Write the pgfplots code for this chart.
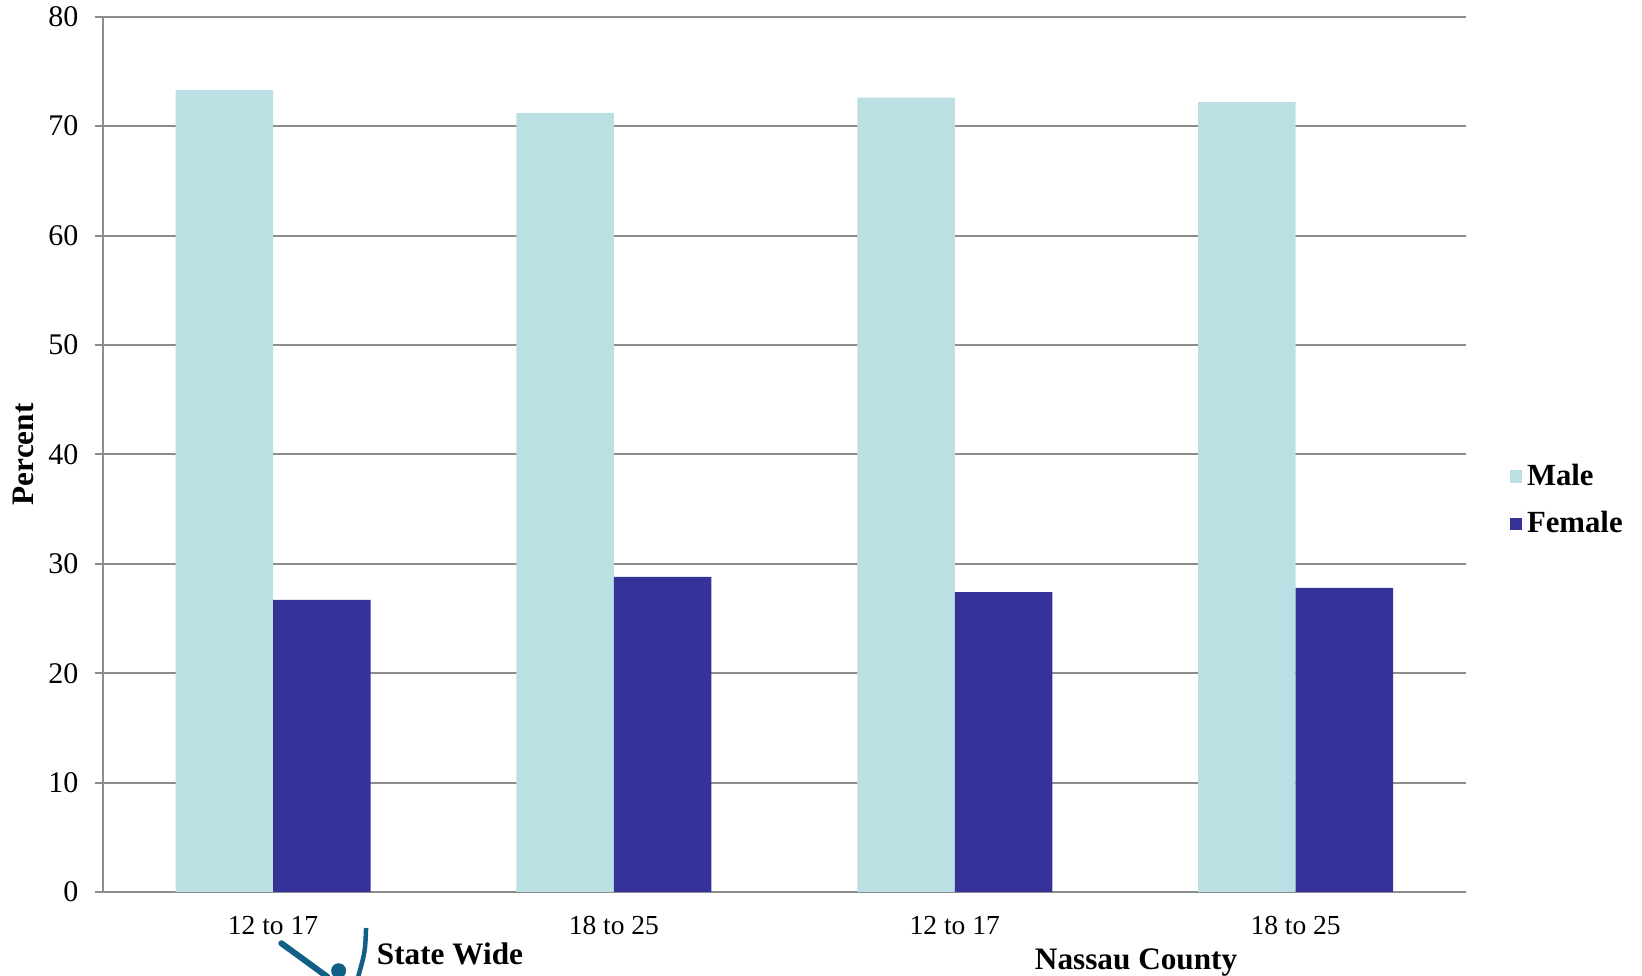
\documentclass[border=0pt]{standalone}
\usepackage{pgfplots}
\pgfplotsset{compat=1.18}
\usepackage{fontspec}
\setmainfont{Liberation Serif}
\definecolor{male}{HTML}{BBE0E3}
\definecolor{female}{HTML}{35339A}
\definecolor{gridgray}{HTML}{8C8C8C}
\definecolor{logo}{HTML}{0F5F86}
\begin{document}
\begin{tikzpicture}
\path[use as bounding box] (-41.04pt,-33.6pt) rectangle (615.76pt,356.8pt);
\begin{axis}[
  scale only axis,
  width=545.4pt, height=350.1pt,
  xmin=-0.5, xmax=3.5, ymin=0, ymax=80,
  ybar=0pt, bar width=0.286,
  axis x line=bottom, axis y line=left,
  axis line style={gridgray, line width=0.8pt, -},
  xtick={0,1,2,3},
  xticklabels={12 to 17,18 to 25,12 to 17,18 to 25},
  x tick style={draw=none},
  ytick={0,10,...,80},
  y tick style={gridgray, line width=0.8pt},
  tick align=outside, major tick length=3.2pt,
  ymajorgrids, major grid style={gridgray, line width=0.8pt},
  /pgf/number format/assume math mode=true,
  yticklabel style={font=\fontsize{12}{14}\selectfont, xshift=-3pt},
  xticklabel style={font=\fontsize{11}{13}\selectfont, yshift=-3pt},
  ylabel={Percent},
  ylabel style={font=\fontsize{12.5}{15}\selectfont\bfseries, at={(rel axis cs:0,0.5)}, yshift=31.8pt, anchor=center},
  legend style={draw=none, fill=none, at={(rel axis cs:1.0315,0.4478)}, anchor=west,
    font=\fontsize{12.3}{15}\selectfont\bfseries, row sep=5pt, inner sep=0pt,
    /tikz/every even column/.append style={column sep=3pt}},
  legend image code/.code={\fill[#1] (0pt,-2.5pt) rectangle (5pt,2.5pt);},
  legend cell align=left,
  clip=false,
]
\addplot[fill=male, draw=none] coordinates {(0,73.3) (1,71.2) (2,72.6) (3,72.2)};
\addplot[fill=female, draw=none] coordinates {(0,26.7) (1,28.8) (2,27.4) (3,27.8)};
\legend{Male,Female}
\node[font=\fontsize{12.5}{15}\selectfont\bfseries] at ([yshift=-24.8pt]axis cs:0.519,0) {State Wide};
\node[font=\fontsize{12.5}{15}\selectfont\bfseries] at ([yshift=-28.2pt]axis cs:2.532,0) {Nassau County};
\end{axis}
\draw[logo, line width=2.4pt, line cap=round] (71.5pt,-20.5pt) -- (90pt,-34pt);
\fill[logo] (94.4pt,-31.5pt) circle (3pt);
\draw[logo, line width=1.8pt] (105.4pt,-14.4pt) .. controls (105pt,-24pt) .. (102.2pt,-34pt);
\end{tikzpicture}
\end{document}
